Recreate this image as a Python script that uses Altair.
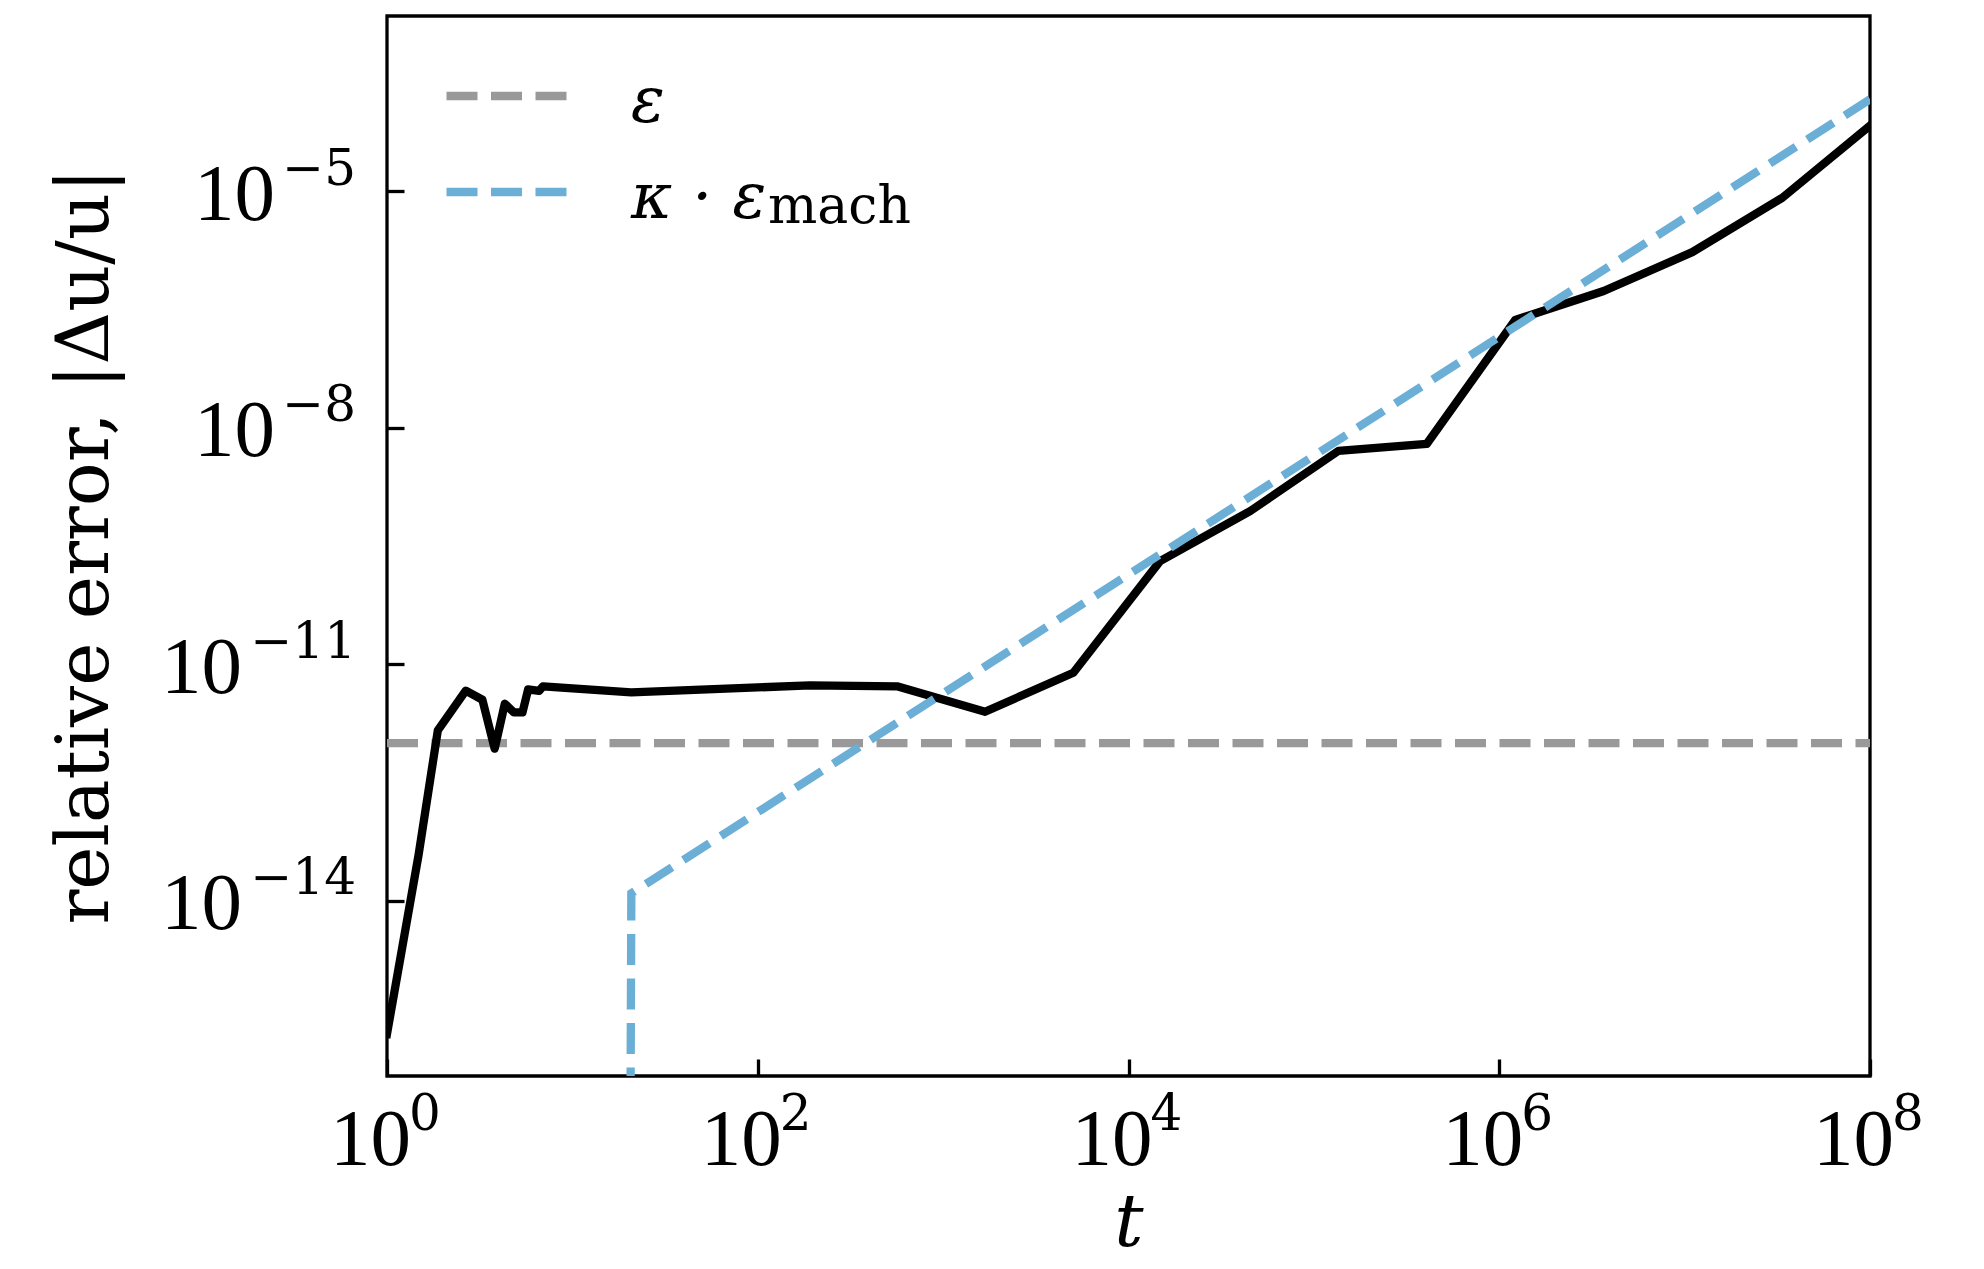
import altair as alt
import pandas as pd

# ---------------- data ----------------
# black curve: relative error |Δu/u| versus t
t_err = [1, 1.48, 1.88, 2.66, 3.27, 3.81, 4.32, 4.84, 5.38, 5.77, 6.61, 6.95,
         20.8, 191, 564, 1683, 5040, 14800, 45300, 135600, 406000,
         1.22e6, 3.66e6, 1.1e7, 3.36e7, 1e8]
err = [2.04e-16, 3.8e-14, 1.45e-12, 4.62e-12, 3.55e-12, 8.5e-13, 3.16e-12,
       2.45e-12, 2.45e-12, 4.8e-12, 4.6e-12, 5.25e-12,
       4.4e-12, 5.4e-12, 5.25e-12, 2.5e-12, 7.8e-12, 2.04e-10, 8.8e-10,
       5.1e-9, 6.25e-9, 2.34e-7, 5.46e-7, 1.7e-6, 8.3e-6, 6.84e-5]

# grey dashed: epsilon
t_eps = [1, 1e8]
eps_vals = [1e-12, 1e-12]

# blue dashed: kappa * eps_mach (zero before t~21, drawn clipped like matplotlib)
t_kappa = [6.95, 20.8, 191, 14800, 1.22e6, 1e8]
kappa_eps = [1e-300, 1.24e-14, 3.53e-13, 2.49e-10, 1.93e-7, 1.48e-4]

series_names = ["ε", "κ · ε"]
series_colors = ["#999999", "#6baed6"]

x_tick_values = [1, 1e2, 1e4, 1e6, 1e8]
x_tick_exp = ["0", "2", "4", "6", "8"]
y_tick_values = [1e-5, 1e-8, 1e-11, 1e-14]
y_tick_exp = ["−5", "−8", "−11", "−14"]

# ---------------- layout ----------------
W, H = 1483, 1060
x_scale = alt.Scale(type="log", domain=[1, 1e8], nice=False)
y_scale = alt.Scale(type="log", domain=[5.96e-17, 1.687e-3], nice=False)

TICK = 17
x_axis = alt.Axis(values=x_tick_values, labels=False, domain=False, grid=False,
                  ticks=True, tickSize=TICK, tickWidth=3.3, tickColor="black",
                  offset=-TICK, title="t", titleFont="DejaVu Serif",
                  titleFontSize=73, titleFontStyle="italic",
                  titleFontWeight="normal", titleColor="black",
                  titleX=W / 2, titleY=186, titleBaseline="alphabetic",
                  titleAlign="center")
y_axis = alt.Axis(values=y_tick_values, labels=False, domain=False, grid=False,
                  ticks=True, tickSize=TICK, tickWidth=3.3, tickColor="black",
                  offset=-TICK, title="relative error, |Δu/u|",
                  titleFont="DejaVu Serif", titleFontSize=73,
                  titleFontWeight="normal", titleColor="black",
                  titleAngle=270, titleX=-297, titleY=H / 2,
                  titleBaseline="alphabetic", titleAlign="center",
                  titleLimit=2000)

X = alt.X("t:Q", scale=x_scale, axis=x_axis)
Y = alt.Y("v:Q", scale=y_scale, axis=y_axis)

legend = alt.Legend(title=None, orient="none", legendX=91, legendY=55.6,
                    padding=0, symbolType="M-3,-0.338H3", symbolSize=1764,
                    symbolStrokeWidth=8.3, symbolDash=[31, 13.5],
                    symbolDashOffset=0, symbolFillColor="transparent",
                    labelFont="DejaVu Serif", labelFontSize=63,
                    labelFontStyle="italic", labelColor="black",
                    labelOffset=90, rowPadding=32, labelLimit=0)
color = alt.Color("series:N", scale=alt.Scale(domain=series_names,
                                              range=series_colors),
                  legend=legend)

df_err = pd.DataFrame({"t": t_err, "v": err})
df_eps = pd.DataFrame({"t": t_eps, "v": eps_vals, "series": series_names[0]})
df_kap = pd.DataFrame({"t": t_kappa, "v": kappa_eps, "series": series_names[1]})

eps_layer = alt.Chart(df_eps).mark_line(
    strokeWidth=8.3, strokeDash=[31, 13.5], strokeCap="butt", clip=True
).encode(x=X, y=Y, color=color, order=alt.Order("t:Q"))

err_layer = alt.Chart(df_err).mark_line(
    color="black", strokeWidth=8.3, strokeJoin="round", strokeCap="square",
    clip=True
).encode(x=X, y=Y, order=alt.Order("t:Q"))

kap_layer = alt.Chart(df_kap).mark_line(
    strokeWidth=8.3, strokeDash=[31, 13.5], strokeCap="butt", clip=True
).encode(x=X, y=Y, color=color, order=alt.Order("t:Q"))

# ---- tick labels 10^n built from text marks placed by the scales ----
df_xl = pd.DataFrame({"t": x_tick_values, "exp": x_tick_exp})
x_base = alt.Chart(df_xl).mark_text(
    font="Liberation Serif", fontSize=81, align="right",
    baseline="alphabetic", dx=24, color="black"
).encode(x=X, y=alt.value(H + 89), text=alt.value("10"))
x_exp = alt.Chart(df_xl).mark_text(
    font="DejaVu Serif", fontSize=50, align="left",
    baseline="alphabetic", dx=22, color="black"
).encode(x=X, y=alt.value(H + 54), text="exp:N")

df_yl = pd.DataFrame({"v": y_tick_values, "exp": y_tick_exp})
y_exp = alt.Chart(df_yl).mark_text(
    font="DejaVu Serif", fontSize=50, align="right",
    baseline="alphabetic", dy=-6.5, color="black"
).encode(x=alt.value(-31), y=Y, text="exp:N")
y_base_short = alt.Chart(df_yl).transform_filter(
    "length(datum.exp) == 2"
).mark_text(
    font="Liberation Serif", fontSize=81, align="right",
    baseline="alphabetic", dy=28.5, color="black"
).encode(x=alt.value(-112), y=Y, text=alt.value("10"))
y_base_long = alt.Chart(df_yl).transform_filter(
    "length(datum.exp) == 3"
).mark_text(
    font="Liberation Serif", fontSize=81, align="right",
    baseline="alphabetic", dy=28.5, color="black"
).encode(x=alt.value(-145), y=Y, text=alt.value("10"))

# subscript of the legend label κ · ε_mach
df_sub = pd.DataFrame({"s": ["mach"]})
sub = alt.Chart(df_sub).mark_text(
    font="DejaVu Serif", fontSize=52, align="left", baseline="alphabetic",
    color="black"
).encode(x=alt.value(381), y=alt.value(207), text="s:N")

chart = alt.layer(
    eps_layer, err_layer, kap_layer, x_base, x_exp, y_exp,
    y_base_short, y_base_long, sub
).properties(
    width=W, height=H,
    padding={"left": 379, "top": 8, "right": 60, "bottom": 185},
    autosize=alt.AutoSizeParams(type="none"),
).configure_view(
    stroke="black", strokeWidth=3.3
).configure_axis(grid=False)

chart.save("out.html", embed_options={"renderer": "svg", "actions": False})
